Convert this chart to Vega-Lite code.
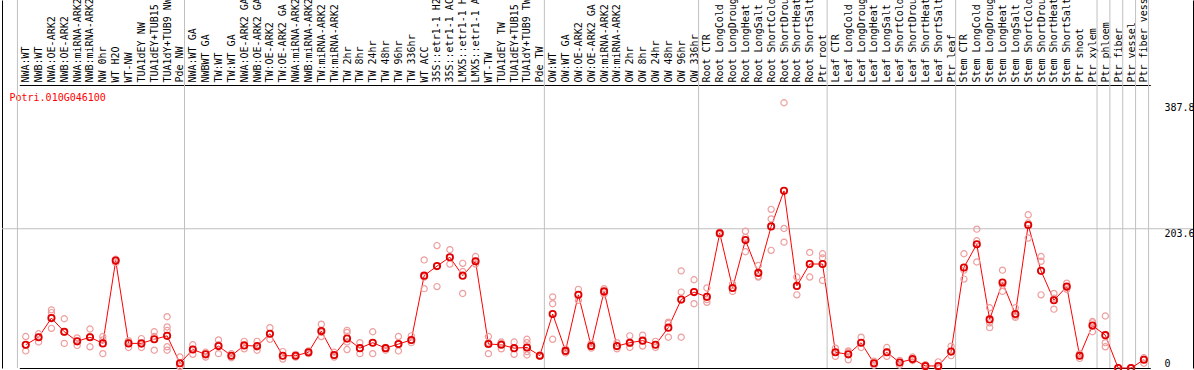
{
  "$schema": "https://vega.github.io/schema/vega-lite/v6.json",
  "width": 1191,
  "height": 368,
  "autosize": {"type": "none"},
  "padding": {"left": 2, "top": 0, "right": 1, "bottom": 2},
  "background": "white",
  "config": {"view": {"stroke": null}, "font": "DejaVu Sans Mono"},
  "datasets": {
    "grid": [{"v": 203.6}],
    "sepsBefore": [{"s": "NWA:WT"}, {"s": "NWA:WT GA"}, {"s": "OW:WT"}, {"s": "Root CTR"}, {"s": "Leaf CTR"}, {"s": "Stem CTR"}, {"s": "Ptr phloem"}, {"s": "Ptr fiber"}, {"s": "Ptr vessel"}, {"s": "Ptr fiber vessel"}],
    "sepsAfter": [{"s": "Ptr fiber vessel"}],
    "means": [
      {"s": "NWA:WT", "m": 34}, {"s": "NWB:WT", "m": 45}, {"s": "NWA:OE-ARK2", "m": 73}, {"s": "NWB:OE-ARK2", "m": 53},
      {"s": "NWA:miRNA-ARK2", "m": 39}, {"s": "NWB:miRNA-ARK2", "m": 45}, {"s": "NW 0hr", "m": 36}, {"s": "WT H2O", "m": 157},
      {"s": "WT-NW", "m": 36}, {"s": "TUA1dEY NW", "m": 36}, {"s": "TUA1dEY+TUB15 NW", "m": 42}, {"s": "TUA1dY+TUB9 NW", "m": 47},
      {"s": "Pde NW", "m": 7}, {"s": "NWA:WT GA", "m": 27}, {"s": "NWBWT GA", "m": 20}, {"s": "TW:WT", "m": 32},
      {"s": "TW:WT GA", "m": 18}, {"s": "NWA:OE-ARK2 GA", "m": 33}, {"s": "NWB:OE-ARK2 GA", "m": 32}, {"s": "TW:OE-ARK2", "m": 50},
      {"s": "TW:OE-ARK2 GA", "m": 18}, {"s": "NWA:miRNA-ARK2 GA", "m": 18}, {"s": "NWB:miRNA-ARK2 GA", "m": 23}, {"s": "TW:miRNA-ARK2", "m": 54},
      {"s": "TW:miRNA-ARK2 GA", "m": 19}, {"s": "TW 2hr", "m": 43}, {"s": "TW 8hr", "m": 29}, {"s": "TW 24hr", "m": 37},
      {"s": "TW 48hr", "m": 29}, {"s": "TW 96hr", "m": 35}, {"s": "TW 336hr", "m": 41}, {"s": "WT ACC", "m": 135},
      {"s": "35S::etr1-1 H2O", "m": 149}, {"s": "35S::etr1-1 ACC", "m": 162}, {"s": "LMX5::etr1-1 H2O", "m": 135}, {"s": "LMX5::etr1-1 ACC", "m": 156},
      {"s": "WT-TW", "m": 35}, {"s": "TUA1dEY TW", "m": 34}, {"s": "TUA1dEY+TUB15 TW", "m": 29}, {"s": "TUA1dY+TUB9 TW", "m": 30},
      {"s": "Pde TW", "m": 18}, {"s": "OW:WT", "m": 79}, {"s": "OW:WT GA", "m": 25}, {"s": "OW:OE-ARK2", "m": 107},
      {"s": "OW:OE-ARK2 GA", "m": 32}, {"s": "OW:miRNA-ARK2", "m": 112}, {"s": "OW:miRNA-ARK2 GA", "m": 32}, {"s": "OW 2hr", "m": 37},
      {"s": "OW 8hr", "m": 40}, {"s": "OW 24hr", "m": 34}, {"s": "OW 48hr", "m": 59}, {"s": "OW 96hr", "m": 100},
      {"s": "OW 336hr", "m": 111}, {"s": "Root CTR", "m": 104}, {"s": "Root LongCold", "m": 197}, {"s": "Root LongDrought", "m": 117},
      {"s": "Root LongHeat", "m": 187}, {"s": "Root LongSalt", "m": 139}, {"s": "Root ShortCold", "m": 207}, {"s": "Root ShortDrought", "m": 259},
      {"s": "Root ShortHeat", "m": 120}, {"s": "Root ShortSalt", "m": 152}, {"s": "Ptr root", "m": 152}, {"s": "Leaf CTR", "m": 23},
      {"s": "Leaf LongCold", "m": 20}, {"s": "Leaf LongDrought", "m": 37}, {"s": "Leaf LongHeat", "m": 7}, {"s": "Leaf LongSalt", "m": 23},
      {"s": "Leaf ShortCold", "m": 8}, {"s": "Leaf ShortDrought", "m": 13}, {"s": "Leaf ShortHeat", "m": 3}, {"s": "Leaf ShortSalt", "m": 3},
      {"s": "Ptr leaf", "m": 24}, {"s": "Stem CTR", "m": 147}, {"s": "Stem LongCold", "m": 181}, {"s": "Stem LongDrought", "m": 71},
      {"s": "Stem LongHeat", "m": 125}, {"s": "Stem LongSalt", "m": 79}, {"s": "Stem ShortCold", "m": 209}, {"s": "Stem ShortDrought", "m": 142},
      {"s": "Stem ShortHeat", "m": 99}, {"s": "Stem ShortSalt", "m": 119}, {"s": "Ptr shoot", "m": 18}, {"s": "Ptr xylem", "m": 62},
      {"s": "Ptr phloem", "m": 48}, {"s": "Ptr fiber", "m": 0}, {"s": "Ptr vessel", "m": 0}, {"s": "Ptr fiber vessel", "m": 12}
    ],
    "reps": [
      {"s": "NWA:WT", "v": 46}, {"s": "NWA:WT", "v": 34}, {"s": "NWA:WT", "v": 25},
      {"s": "NWB:WT", "v": 50}, {"s": "NWB:WT", "v": 45}, {"s": "NWB:WT", "v": 38},
      {"s": "NWA:OE-ARK2", "v": 85}, {"s": "NWA:OE-ARK2", "v": 81}, {"s": "NWA:OE-ARK2", "v": 58},
      {"s": "NWB:OE-ARK2", "v": 72}, {"s": "NWB:OE-ARK2", "v": 52}, {"s": "NWB:OE-ARK2", "v": 36},
      {"s": "NWA:miRNA-ARK2", "v": 44}, {"s": "NWA:miRNA-ARK2", "v": 39}, {"s": "NWA:miRNA-ARK2", "v": 33},
      {"s": "NWB:miRNA-ARK2", "v": 57}, {"s": "NWB:miRNA-ARK2", "v": 46}, {"s": "NWB:miRNA-ARK2", "v": 31},
      {"s": "NW 0hr", "v": 46}, {"s": "NW 0hr", "v": 41}, {"s": "NW 0hr", "v": 21},
      {"s": "WT H2O", "v": 159}, {"s": "WT H2O", "v": 157}, {"s": "WT H2O", "v": 154},
      {"s": "WT-NW", "v": 40}, {"s": "WT-NW", "v": 37}, {"s": "WT-NW", "v": 30},
      {"s": "TUA1dEY NW", "v": 43}, {"s": "TUA1dEY NW", "v": 35}, {"s": "TUA1dEY NW", "v": 30},
      {"s": "TUA1dEY+TUB15 NW", "v": 53}, {"s": "TUA1dEY+TUB15 NW", "v": 46}, {"s": "TUA1dEY+TUB15 NW", "v": 26},
      {"s": "TUA1dY+TUB9 NW", "v": 75}, {"s": "TUA1dY+TUB9 NW", "v": 60}, {"s": "TUA1dY+TUB9 NW", "v": 55}, {"s": "TUA1dY+TUB9 NW", "v": 31}, {"s": "TUA1dY+TUB9 NW", "v": 26},
      {"s": "Pde NW", "v": 16}, {"s": "Pde NW", "v": 3}, {"s": "Pde NW", "v": 2},
      {"s": "NWA:WT GA", "v": 34}, {"s": "NWA:WT GA", "v": 27}, {"s": "NWA:WT GA", "v": 20},
      {"s": "NWBWT GA", "v": 23}, {"s": "NWBWT GA", "v": 20}, {"s": "NWBWT GA", "v": 16},
      {"s": "TW:WT", "v": 41}, {"s": "TW:WT", "v": 34}, {"s": "TW:WT", "v": 21},
      {"s": "TW:WT GA", "v": 21}, {"s": "TW:WT GA", "v": 18}, {"s": "TW:WT GA", "v": 15},
      {"s": "NWA:OE-ARK2 GA", "v": 39}, {"s": "NWA:OE-ARK2 GA", "v": 33}, {"s": "NWA:OE-ARK2 GA", "v": 28},
      {"s": "NWB:OE-ARK2 GA", "v": 39}, {"s": "NWB:OE-ARK2 GA", "v": 31}, {"s": "NWB:OE-ARK2 GA", "v": 26},
      {"s": "TW:OE-ARK2", "v": 59}, {"s": "TW:OE-ARK2", "v": 50}, {"s": "TW:OE-ARK2", "v": 42},
      {"s": "TW:OE-ARK2 GA", "v": 24}, {"s": "TW:OE-ARK2 GA", "v": 18}, {"s": "TW:OE-ARK2 GA", "v": 13},
      {"s": "NWA:miRNA-ARK2 GA", "v": 20}, {"s": "NWA:miRNA-ARK2 GA", "v": 18}, {"s": "NWA:miRNA-ARK2 GA", "v": 16},
      {"s": "NWB:miRNA-ARK2 GA", "v": 25}, {"s": "NWB:miRNA-ARK2 GA", "v": 22}, {"s": "NWB:miRNA-ARK2 GA", "v": 21},
      {"s": "TW:miRNA-ARK2", "v": 64}, {"s": "TW:miRNA-ARK2", "v": 52}, {"s": "TW:miRNA-ARK2", "v": 46},
      {"s": "TW:miRNA-ARK2 GA", "v": 23}, {"s": "TW:miRNA-ARK2 GA", "v": 18}, {"s": "TW:miRNA-ARK2 GA", "v": 16},
      {"s": "TW 2hr", "v": 55}, {"s": "TW 2hr", "v": 52}, {"s": "TW 2hr", "v": 38}, {"s": "TW 2hr", "v": 27},
      {"s": "TW 8hr", "v": 37}, {"s": "TW 8hr", "v": 29}, {"s": "TW 8hr", "v": 21},
      {"s": "TW 24hr", "v": 53}, {"s": "TW 24hr", "v": 37}, {"s": "TW 24hr", "v": 21},
      {"s": "TW 48hr", "v": 30}, {"s": "TW 48hr", "v": 29}, {"s": "TW 48hr", "v": 26},
      {"s": "TW 96hr", "v": 46}, {"s": "TW 96hr", "v": 35}, {"s": "TW 96hr", "v": 25},
      {"s": "TW 336hr", "v": 47}, {"s": "TW 336hr", "v": 40}, {"s": "TW 336hr", "v": 37},
      {"s": "WT ACC", "v": 158}, {"s": "WT ACC", "v": 133}, {"s": "WT ACC", "v": 116},
      {"s": "35S::etr1-1 H2O", "v": 179}, {"s": "35S::etr1-1 H2O", "v": 149}, {"s": "35S::etr1-1 H2O", "v": 119},
      {"s": "35S::etr1-1 ACC", "v": 173}, {"s": "35S::etr1-1 ACC", "v": 162}, {"s": "35S::etr1-1 ACC", "v": 152},
      {"s": "LMX5::etr1-1 H2O", "v": 153}, {"s": "LMX5::etr1-1 H2O", "v": 141}, {"s": "LMX5::etr1-1 H2O", "v": 109},
      {"s": "LMX5::etr1-1 ACC", "v": 163}, {"s": "LMX5::etr1-1 ACC", "v": 156}, {"s": "LMX5::etr1-1 ACC", "v": 152},
      {"s": "WT-TW", "v": 46}, {"s": "WT-TW", "v": 37}, {"s": "WT-TW", "v": 21},
      {"s": "TUA1dEY TW", "v": 38}, {"s": "TUA1dEY TW", "v": 36}, {"s": "TUA1dEY TW", "v": 28},
      {"s": "TUA1dEY+TUB15 TW", "v": 38}, {"s": "TUA1dEY+TUB15 TW", "v": 29}, {"s": "TUA1dEY+TUB15 TW", "v": 20},
      {"s": "TUA1dY+TUB9 TW", "v": 42}, {"s": "TUA1dY+TUB9 TW", "v": 37}, {"s": "TUA1dY+TUB9 TW", "v": 30}, {"s": "TUA1dY+TUB9 TW", "v": 24}, {"s": "TUA1dY+TUB9 TW", "v": 19},
      {"s": "Pde TW", "v": 19}, {"s": "Pde TW", "v": 18}, {"s": "Pde TW", "v": 17},
      {"s": "OW:WT", "v": 104}, {"s": "OW:WT", "v": 94}, {"s": "OW:WT", "v": 42},
      {"s": "OW:WT GA", "v": 28}, {"s": "OW:WT GA", "v": 25}, {"s": "OW:WT GA", "v": 22},
      {"s": "OW:OE-ARK2", "v": 115}, {"s": "OW:OE-ARK2", "v": 107}, {"s": "OW:OE-ARK2", "v": 99},
      {"s": "OW:OE-ARK2 GA", "v": 36}, {"s": "OW:OE-ARK2 GA", "v": 32}, {"s": "OW:OE-ARK2 GA", "v": 29},
      {"s": "OW:miRNA-ARK2", "v": 116}, {"s": "OW:miRNA-ARK2", "v": 112}, {"s": "OW:miRNA-ARK2", "v": 108},
      {"s": "OW:miRNA-ARK2 GA", "v": 37}, {"s": "OW:miRNA-ARK2 GA", "v": 32}, {"s": "OW:miRNA-ARK2 GA", "v": 28},
      {"s": "OW 2hr", "v": 47}, {"s": "OW 2hr", "v": 36}, {"s": "OW 2hr", "v": 30},
      {"s": "OW 8hr", "v": 48}, {"s": "OW 8hr", "v": 40}, {"s": "OW 8hr", "v": 32},
      {"s": "OW 24hr", "v": 39}, {"s": "OW 24hr", "v": 34}, {"s": "OW 24hr", "v": 30},
      {"s": "OW 48hr", "v": 67}, {"s": "OW 48hr", "v": 65}, {"s": "OW 48hr", "v": 45},
      {"s": "OW 96hr", "v": 142}, {"s": "OW 96hr", "v": 111}, {"s": "OW 96hr", "v": 45},
      {"s": "OW 336hr", "v": 129}, {"s": "OW 336hr", "v": 111}, {"s": "OW 336hr", "v": 94},
      {"s": "Root CTR", "v": 117}, {"s": "Root CTR", "v": 100}, {"s": "Root CTR", "v": 96},
      {"s": "Root LongCold", "v": 199}, {"s": "Root LongCold", "v": 197}, {"s": "Root LongCold", "v": 195},
      {"s": "Root LongDrought", "v": 123}, {"s": "Root LongDrought", "v": 117}, {"s": "Root LongDrought", "v": 112},
      {"s": "Root LongHeat", "v": 200}, {"s": "Root LongHeat", "v": 191}, {"s": "Root LongHeat", "v": 170},
      {"s": "Root LongSalt", "v": 150}, {"s": "Root LongSalt", "v": 134}, {"s": "Root LongSalt", "v": 133},
      {"s": "Root ShortCold", "v": 232}, {"s": "Root ShortCold", "v": 218}, {"s": "Root ShortCold", "v": 172},
      {"s": "Root ShortDrought", "v": 387.8}, {"s": "Root ShortDrought", "v": 204}, {"s": "Root ShortDrought", "v": 184},
      {"s": "Root ShortHeat", "v": 133}, {"s": "Root ShortHeat", "v": 120}, {"s": "Root ShortHeat", "v": 107},
      {"s": "Root ShortSalt", "v": 169}, {"s": "Root ShortSalt", "v": 153}, {"s": "Root ShortSalt", "v": 133},
      {"s": "Ptr root", "v": 167}, {"s": "Ptr root", "v": 161}, {"s": "Ptr root", "v": 128},
      {"s": "Leaf CTR", "v": 29}, {"s": "Leaf CTR", "v": 23}, {"s": "Leaf CTR", "v": 17},
      {"s": "Leaf LongCold", "v": 25}, {"s": "Leaf LongCold", "v": 23}, {"s": "Leaf LongCold", "v": 12},
      {"s": "Leaf LongDrought", "v": 45}, {"s": "Leaf LongDrought", "v": 37}, {"s": "Leaf LongDrought", "v": 30},
      {"s": "Leaf LongHeat", "v": 10}, {"s": "Leaf LongHeat", "v": 7}, {"s": "Leaf LongHeat", "v": 4},
      {"s": "Leaf LongSalt", "v": 30}, {"s": "Leaf LongSalt", "v": 23}, {"s": "Leaf LongSalt", "v": 17},
      {"s": "Leaf ShortCold", "v": 11}, {"s": "Leaf ShortCold", "v": 8}, {"s": "Leaf ShortCold", "v": 4},
      {"s": "Leaf ShortDrought", "v": 16}, {"s": "Leaf ShortDrought", "v": 13}, {"s": "Leaf ShortDrought", "v": 11},
      {"s": "Leaf ShortHeat", "v": 5}, {"s": "Leaf ShortHeat", "v": 3}, {"s": "Leaf ShortHeat", "v": 2},
      {"s": "Leaf ShortSalt", "v": 9}, {"s": "Leaf ShortSalt", "v": 1}, {"s": "Leaf ShortSalt", "v": 0},
      {"s": "Ptr leaf", "v": 32}, {"s": "Ptr leaf", "v": 24}, {"s": "Ptr leaf", "v": 18},
      {"s": "Stem CTR", "v": 167}, {"s": "Stem CTR", "v": 143}, {"s": "Stem CTR", "v": 130},
      {"s": "Stem LongCold", "v": 203}, {"s": "Stem LongCold", "v": 186}, {"s": "Stem LongCold", "v": 155},
      {"s": "Stem LongDrought", "v": 88}, {"s": "Stem LongDrought", "v": 66}, {"s": "Stem LongDrought", "v": 59},
      {"s": "Stem LongHeat", "v": 143}, {"s": "Stem LongHeat", "v": 121}, {"s": "Stem LongHeat", "v": 112},
      {"s": "Stem LongSalt", "v": 88}, {"s": "Stem LongSalt", "v": 76}, {"s": "Stem LongSalt", "v": 74},
      {"s": "Stem ShortCold", "v": 224}, {"s": "Stem ShortCold", "v": 212}, {"s": "Stem ShortCold", "v": 190},
      {"s": "Stem ShortDrought", "v": 163}, {"s": "Stem ShortDrought", "v": 156}, {"s": "Stem ShortDrought", "v": 107},
      {"s": "Stem ShortHeat", "v": 109}, {"s": "Stem ShortHeat", "v": 102}, {"s": "Stem ShortHeat", "v": 86},
      {"s": "Stem ShortSalt", "v": 124}, {"s": "Stem ShortSalt", "v": 118}, {"s": "Stem ShortSalt", "v": 115},
      {"s": "Ptr shoot", "v": 21}, {"s": "Ptr shoot", "v": 19}, {"s": "Ptr shoot", "v": 14},
      {"s": "Ptr xylem", "v": 68}, {"s": "Ptr xylem", "v": 66}, {"s": "Ptr xylem", "v": 53},
      {"s": "Ptr phloem", "v": 76}, {"s": "Ptr phloem", "v": 37}, {"s": "Ptr phloem", "v": 31},
      {"s": "Ptr fiber", "v": 0}, {"s": "Ptr fiber", "v": 0}, {"s": "Ptr fiber", "v": 0},
      {"s": "Ptr vessel", "v": 0}, {"s": "Ptr vessel", "v": 0}, {"s": "Ptr vessel", "v": 0},
      {"s": "Ptr fiber vessel", "v": 15}, {"s": "Ptr fiber vessel", "v": 13}, {"s": "Ptr fiber vessel", "v": 7}
    ]
  },
  "layer": [
    {
      "data": {"name": "grid"},
      "mark": {"type": "rule", "color": "#c0c0c0", "strokeWidth": 1},
      "encoding": {
        "y": {"field": "v", "type": "quantitative", "scale": {"domain": [0, 538], "nice": false, "zero": false},
              "axis": {"orient": "left", "labels": false, "ticks": false, "grid": false, "domain": true, "domainColor": "black", "domainWidth": 1, "title": null}}
      }
    },
    {
      "data": {"name": "sepsBefore"},
      "mark": {"type": "rule", "color": "#c0c0c0", "strokeWidth": 1, "xOffset": -8.3},
      "encoding": {
        "x": {"field": "s", "type": "nominal",
              "scale": {"type": "point", "range": [17.3, 1148.3], "domain": ["NWA:WT", "NWB:WT", "NWA:OE-ARK2", "NWB:OE-ARK2", "NWA:miRNA-ARK2", "NWB:miRNA-ARK2", "NW 0hr", "WT H2O", "WT-NW", "TUA1dEY NW", "TUA1dEY+TUB15 NW", "TUA1dY+TUB9 NW", "Pde NW", "NWA:WT GA", "NWBWT GA", "TW:WT", "TW:WT GA", "NWA:OE-ARK2 GA", "NWB:OE-ARK2 GA", "TW:OE-ARK2", "TW:OE-ARK2 GA", "NWA:miRNA-ARK2 GA", "NWB:miRNA-ARK2 GA", "TW:miRNA-ARK2", "TW:miRNA-ARK2 GA", "TW 2hr", "TW 8hr", "TW 24hr", "TW 48hr", "TW 96hr", "TW 336hr", "WT ACC", "35S::etr1-1 H2O", "35S::etr1-1 ACC", "LMX5::etr1-1 H2O", "LMX5::etr1-1 ACC", "WT-TW", "TUA1dEY TW", "TUA1dEY+TUB15 TW", "TUA1dY+TUB9 TW", "Pde TW", "OW:WT", "OW:WT GA", "OW:OE-ARK2", "OW:OE-ARK2 GA", "OW:miRNA-ARK2", "OW:miRNA-ARK2 GA", "OW 2hr", "OW 8hr", "OW 24hr", "OW 48hr", "OW 96hr", "OW 336hr", "Root CTR", "Root LongCold", "Root LongDrought", "Root LongHeat", "Root LongSalt", "Root ShortCold", "Root ShortDrought", "Root ShortHeat", "Root ShortSalt", "Ptr root", "Leaf CTR", "Leaf LongCold", "Leaf LongDrought", "Leaf LongHeat", "Leaf LongSalt", "Leaf ShortCold", "Leaf ShortDrought", "Leaf ShortHeat", "Leaf ShortSalt", "Ptr leaf", "Stem CTR", "Stem LongCold", "Stem LongDrought", "Stem LongHeat", "Stem LongSalt", "Stem ShortCold", "Stem ShortDrought", "Stem ShortHeat", "Stem ShortSalt", "Ptr shoot", "Ptr xylem", "Ptr phloem", "Ptr fiber", "Ptr vessel", "Ptr fiber vessel"]},
              "axis": {"orient": "bottom", "labels": false, "ticks": false, "grid": false, "domain": true, "domainColor": "black", "title": null}}
      }
    },
    {
      "data": {"name": "sepsAfter"},
      "mark": {"type": "rule", "color": "#c0c0c0", "strokeWidth": 1, "xOffset": 4.7},
      "encoding": {"x": {"field": "s", "type": "nominal", "axis": null}}
    },
    {
      "data": {"name": "means"},
      "mark": {"type": "line", "color": "#ff0000", "strokeWidth": 1},
      "encoding": {
        "x": {"field": "s", "type": "nominal", "axis": null},
        "y": {"field": "m", "type": "quantitative", "axis": null}
      }
    },
    {
      "data": {"name": "reps"},
      "mark": {"type": "point", "shape": "circle", "filled": false, "size": 38, "color": "#ee9e9e", "strokeWidth": 1.2, "opacity": 1},
      "encoding": {
        "x": {"field": "s", "type": "nominal", "axis": null},
        "y": {"field": "v", "type": "quantitative", "axis": null}
      }
    },
    {
      "data": {"name": "means"},
      "mark": {"type": "point", "shape": "circle", "filled": false, "size": 40, "color": "#e00000", "strokeWidth": 1.8, "opacity": 1},
      "encoding": {
        "x": {"field": "s", "type": "nominal",
              "axis": {"orient": "top", "offset": -85, "labelAngle": -90, "labelAlign": "left", "labelBaseline": "middle", "labelPadding": 3,
                       "labelFont": "DejaVu Sans Mono", "labelFontSize": 10, "labelColor": "black", "labelOverlap": false, "labelLimit": 300,
                       "ticks": false, "grid": false, "domain": true, "domainColor": "black", "title": null}},
        "y": {"field": "m", "type": "quantitative",
              "axis": {"orient": "right", "values": [0, 203.6, 387.8],
                       "labelExpr": "datum.value == 0 ? '0' : format(datum.value, '.1f')",
                       "labelAlign": "left", "labelPadding": -29,
                       "labelBaseline": {"condition": {"test": "datum.value == 0", "value": "bottom"}, "value": "top"},
                       "labelFont": "DejaVu Sans Mono", "labelFontSize": 10, "labelColor": "black",
                       "ticks": false, "grid": false, "domain": true, "domainColor": "black",
                       "title": "Potri.010G046100", "titleX": -1184, "titleY": 97, "titleAngle": 0, "titleAlign": "left", "titleBaseline": "middle",
                       "titleColor": "#ff0000", "titleFont": "DejaVu Sans Mono", "titleFontSize": 10, "titleFontWeight": "normal"}}
      }
    }
  ],
  "resolve": {"axis": {"x": "independent", "y": "independent"}}
}
